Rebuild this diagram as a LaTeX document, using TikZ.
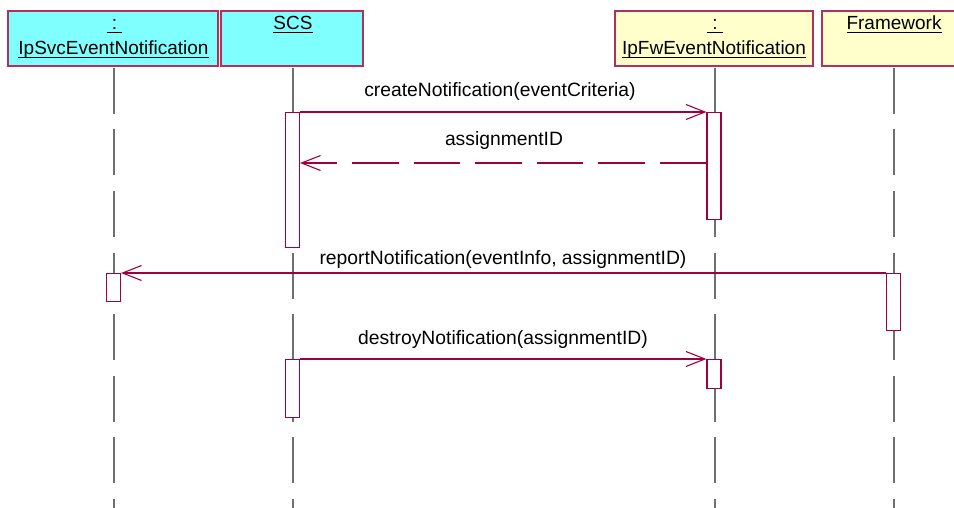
\documentclass[tikz,border=0pt]{standalone}
\usepackage{fontspec}
\setmainfont{Liberation Sans}
\usetikzlibrary{arrows.meta}
\definecolor{boxcyan}{HTML}{80FFFF}
\definecolor{boxyellow}{HTML}{FFFFCC}
\definecolor{edgecol}{HTML}{B0305E}
\definecolor{msgcol}{HTML}{A0003C}
\definecolor{lifecol}{HTML}{707070}
\newcommand\myul[1]{\setbox0\hbox{#1}\rlap{\rule[-2.8pt]{\wd0}{0.9pt}}\box0}
\begin{document}
\begin{tikzpicture}[x=1pt,y=-1pt,
  headbox/.style={draw=edgecol, line width=1.2pt, inner sep=0pt, minimum height=55pt},
  actbar/.style={draw=msgcol, fill=white, line width=1.1pt, minimum width=14pt, inner sep=0pt, anchor=north},
  lifeline/.style={draw=lifecol, line width=1.5pt, dash pattern=on 46pt off 15.5pt},
  call/.style={draw=msgcol, line width=1.1pt, -{Straight Barb[length=19pt,width=15pt]}},
  reply/.style={call, dash pattern=on 46.5pt off 15pt},
  headtxt/.style={font=\fontsize{19}{22}\selectfont, anchor=base, inner sep=0pt},
  txt/.style={font=\fontsize{19.3}{22}\selectfont, anchor=base, inner sep=0pt}]
\useasboundingbox (0,0) rectangle (954,508);
\clip (0,0) rectangle (954,508);

% header boxes
\node[headbox, fill=boxcyan, minimum width=210pt] (svcH) at (113,38.5) {};
\node[headbox, fill=boxcyan, minimum width=142pt] (scsH) at (292,38.5) {};
\node[headbox, fill=boxyellow, minimum width=198pt] (fwH) at (714,38.5) {};
\node[headbox, fill=boxyellow, minimum width=144pt] (frmH) at (894,38.5) {};

% header texts
\node[headtxt] (svcC) at (114.5,30) {\myul{\ :\ }};
\node[headtxt] (svcN) at (113.5,55) {\myul{IpSvcEventNotification}};
\node[headtxt] (scsN) at (293,30) {\myul{SCS}};
\node[headtxt] (fwC) at (715,30) {\myul{\ :\ }};
\node[headtxt] (fwN) at (714,55) {\myul{IpFwEventNotification}};
\node[headtxt] (frmN) at (894,30) {\myul{Framework}};

% lifelines
\coordinate (svcTop) at (114,68);  \coordinate (svcBot) at (114,508);
\coordinate (scsTop) at (293,68);  \coordinate (scsBot) at (293,508);
\coordinate (fwTop) at (715,68);   \coordinate (fwBot) at (715,508);
\coordinate (frmTop) at (894,68);  \coordinate (frmBot) at (894,508);
\draw[lifeline] (svcTop) -- (svcBot);
\draw[lifeline] (scsTop) -- (scsBot);
\draw[lifeline] (fwTop) -- (fwBot);
\draw[lifeline] (frmTop) -- (frmBot);

% activation bars
\node[actbar, minimum height=135pt] (scs1) at (292.5,112) {};
\node[actbar, minimum height=107pt] (fw1) at (714,112) {};
\node[actbar, minimum height=28pt] (svc1) at (113.5,273) {};
\node[actbar, minimum height=57pt] (frm1) at (893.5,273) {};
\node[actbar, minimum height=29pt] (fw2) at (714,359) {};
\node[actbar, minimum height=58pt] (scs2) at (292.5,359) {};

% messages
\draw[call] (scs1.north east) -- (fw1.north west);
\draw[reply] ([yshift=-51pt]fw1.north west) -- ([yshift=-51pt]scs1.north east);
\draw[call] (frm1.north west) -- (svc1.north east);
\draw[call] (scs2.north east) -- (fw2.north west);

% message labels
\node[txt] (m1) at (500,97) {createNotification(eventCriteria)};
\node[txt] (m2) at (504,146) {assignmentID};
\node[txt] (m3) at (503,264) {reportNotification(eventInfo, assignmentID)};
\node[txt] (m4) at (503,344) {destroyNotification(assignmentID)};
\end{tikzpicture}
\end{document}
